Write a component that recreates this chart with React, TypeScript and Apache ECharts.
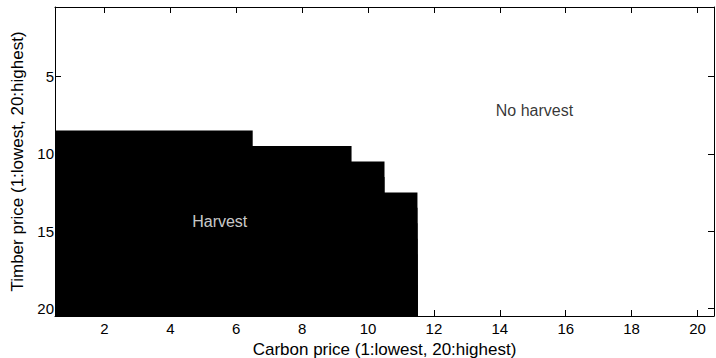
import React, { useEffect, useRef } from "react";
import * as echarts from "echarts";

// Timber price index (rows, 1..20) and the highest carbon price index at which harvest is optimal (0 = none)
const timberPrices = [1, 2, 3, 4, 5, 6, 7, 8, 9, 10, 11, 12, 13, 14, 15, 16, 17, 18, 19, 20];
const harvestLimit = [0, 0, 0, 0, 0, 0, 0, 0, 6, 9, 10, 10, 11, 11, 11, 11, 11, 11, 11, 11];
const xTicks = [2, 4, 6, 8, 10, 12, 14, 16, 18, 20];
const yTicks = [5, 10, 15, 20];
const regionLabels = [
  { name: "Harvest", value: [5.5, 14.4], color: "#ffffff" },
  { name: "No harvest", value: [15.05, 7.2], color: "#000000" },
];

const FONT = "Liberation Sans, Arial, sans-serif";

export default function App() {
  const ref = useRef<HTMLDivElement>(null);
  useEffect(() => {
    document.body.style.margin = "0";
    if (!ref.current) return;
    const chart = echarts.init(ref.current, null, { renderer: "svg" });
    const rows = timberPrices
      .map((t, i) => [t, harvestLimit[i]])
      .filter((r) => r[1] > 0);
    const baseX = {
      type: "value" as const,
      min: 0.5,
      max: 20.5,
      splitLine: { show: false },
      axisLine: { show: true, lineStyle: { color: "#000", width: 1 } },
      axisTick: { show: true, inside: true, length: 6, customValues: xTicks, lineStyle: { color: "#000" } },
    };
    const baseY = {
      type: "value" as const,
      min: 0.5,
      max: 20.5,
      inverse: true,
      splitLine: { show: false },
      axisLine: { show: true, lineStyle: { color: "#000", width: 1 } },
      axisTick: { show: true, inside: true, length: 6, customValues: yTicks, lineStyle: { color: "#000" } },
    };
    chart.setOption({
      animation: false,
      backgroundColor: "#fff",
      grid: { left: 55, right: 2, top: 7, bottom: 42, outerBoundsMode: "none", containLabel: false },
      xAxis: [
        {
          ...baseX,
          position: "bottom",
          name: "Carbon price (1:lowest, 20:highest)",
          nameLocation: "middle",
          nameGap: 17,
          nameTextStyle: { fontFamily: FONT, fontSize: 17, color: "#000" },
          axisLabel: { show: true, customValues: xTicks, margin: 5, fontFamily: FONT, fontSize: 15, color: "#000" },
        },
        { ...baseX, position: "top", axisLabel: { show: false } },
      ],
      yAxis: [
        {
          ...baseY,
          position: "left",
          name: "Timber price (1:lowest, 20:highest)",
          nameLocation: "middle",
          nameGap: 18,
          nameTextStyle: { fontFamily: FONT, fontSize: 17, color: "#000" },
          axisLabel: { show: true, customValues: yTicks, margin: 1, fontFamily: FONT, fontSize: 15, color: "#000" },
        },
        { ...baseY, position: "right", axisLabel: { show: false } },
      ],
      series: [
        {
          type: "custom",
          xAxisIndex: 0,
          yAxisIndex: 0,
          data: rows,
          renderItem: (params: any, api: any) => {
            const t = api.value(0);
            const lim = api.value(1);
            const p0 = api.coord([0.5, t - 0.5]);
            const p1 = api.coord([lim + 0.5, 20.5]);
            return {
              type: "rect",
              shape: {
                x: p0[0],
                y: p0[1],
                width: p1[0] - p0[0],
                height: p1[1] - p0[1],
              },
              style: { fill: "#000" },
            };
          },
          z: 1,
        },
        {
          type: "scatter",
          symbolSize: 0,
          data: regionLabels.map((d) => ({
            name: d.name,
            value: d.value,
            label: { color: d.color },
          })),
          label: {
            show: true,
            position: "inside",
            formatter: "{b}",
            fontFamily: FONT,
            fontSize: 16,
            color: "#000",
            textBorderWidth: 0,
            textBorderColor: "transparent",
          },
          z: 5,
        },
      ],
    });
    return () => chart.dispose();
  }, []);
  return <div ref={ref} style={{ width: 716, height: 358 }} />;
}
